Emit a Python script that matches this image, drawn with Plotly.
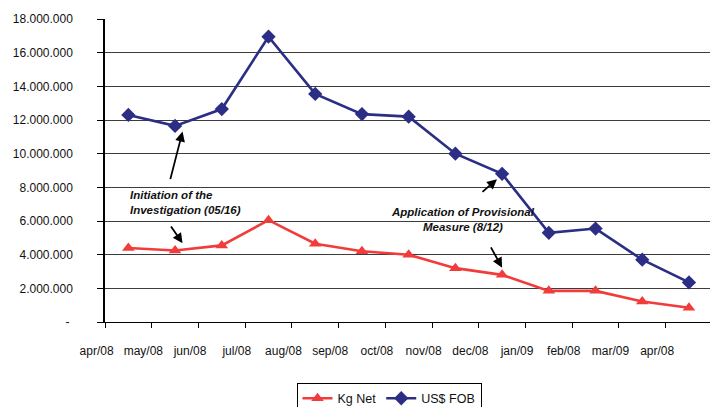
import plotly.graph_objects as go

# Monthly series
months = ["apr/08", "may/08", "jun/08", "jul/08", "aug/08", "sep/08", "oct/08",
          "nov/08", "dec/08", "jan/09", "feb/08", "mar/09", "apr/08"]
kg_net = [4.40e6, 4.25e6, 4.55e6, 6.05e6, 4.65e6, 4.20e6, 4.00e6,
          3.20e6, 2.80e6, 1.85e6, 1.85e6, 1.22e6, 0.85e6]
us_fob = [12.30e6, 11.65e6, 12.65e6, 16.95e6, 13.55e6, 12.35e6, 12.20e6,
          10.00e6, 8.80e6, 5.30e6, 5.55e6, 3.70e6, 2.35e6]

y_ticks = [i * 2_000_000 for i in range(10)]
y_labels = ["-\u00a0"] + [f"{v:,}".replace(",", ".") for v in y_ticks[1:]]

FONT = "Liberation Sans, Arial, sans-serif"
RED = "#F23B3B"
NAVY = "#2B2E84"

# geometry of the plotting area (pixels)
W, H = 710, 407
ML = 80            # paper margin; label axis starts here
AXIS_X = 105       # where the value axis sits
X_MAX = 12.95      # visible month slots
LABEL_SHIFT = 0.18 # month labels hang a little left of their tick marks
plot_w = W - ML
d0 = (AXIS_X - ML) / plot_w
unit = (W - AXIS_X) / X_MAX

# points sit in the middle of each month slot
xpos = [i + 0.5 for i in range(len(months))]

fig = go.Figure()
fig.add_trace(go.Scatter(
    x=xpos, y=kg_net, name="Kg Net", mode="lines+markers",
    line=dict(color=RED, width=2.6),
    marker=dict(symbol="triangle-up", size=11, color=RED),
))
fig.add_trace(go.Scatter(
    x=xpos, y=us_fob, name="US$ FOB", mode="lines+markers",
    line=dict(color=NAVY, width=2.6),
    marker=dict(symbol="diamond", size=11, color=NAVY),
))
# invisible carrier for the month-label axis
fig.add_trace(go.Scatter(x=[1], y=[0], xaxis="x2", yaxis="y2", mode="markers",
                         marker=dict(opacity=0), showlegend=False, hoverinfo="skip"))

fig.update_layout(
    width=W, height=H, autosize=False,
    margin=dict(l=ML, r=0, t=19, b=85, autoexpand=False),
    paper_bgcolor="white", plot_bgcolor="rgba(0,0,0,0)",
    font=dict(family=FONT, size=12, color="#111"),
    showlegend=True,
    legend=dict(
        orientation="h", x=(389 - ML) / plot_w, xanchor="center", y=-0.2, yanchor="top",
        bordercolor="#000", borderwidth=1, bgcolor="white",
        font=dict(size=12.5, color="#111"), itemwidth=30,
        tracegroupgap=0,
    ),
    xaxis=dict(
        domain=[d0, 1], range=[0, X_MAX], tickmode="array",
        tickvals=list(range(len(months))), showticklabels=False,
        ticks="outside", ticklen=5, tickcolor="#000",
        showgrid=False, zeroline=False, showline=True, linecolor="#000", linewidth=1,
        automargin=False,
    ),
    xaxis2=dict(
        domain=[0, 1], anchor="free", position=0,
        range=[-(AXIS_X - ML) / unit + LABEL_SHIFT, X_MAX + LABEL_SHIFT],
        tickmode="array", tickvals=list(range(len(months))), ticktext=months,
        tickangle=0, ticks="", showgrid=False, zeroline=False, showline=False,
        ticklabelstandoff=20, tickfont=dict(size=12, color="#111"), automargin=False,
    ),
    yaxis=dict(
        range=[0, 18e6], tickmode="array", tickvals=y_ticks, ticktext=y_labels,
        ticks="outside", ticklen=6, tickcolor="#000",
        showgrid=True, gridcolor="#3c3c3c", gridwidth=1,
        zeroline=False, showline=True, linecolor="#000", linewidth=1.5,
        ticklabelstandoff=22, tickfont=dict(size=12, color="#111"), automargin=False,
    ),
    yaxis2=dict(overlaying="y", anchor="x2", range=[0, 18e6], visible=False,
                showgrid=False, zeroline=False),
)

ann_font = dict(family=FONT, size=11.5, color="#111")
# event labels
fig.add_annotation(x=0.5, y=7.07e6, xref="x", yref="y", xanchor="left", yanchor="middle",
                   text="<b><i>Initiation of the<br>Investigation (05/16)</i></b>",
                   showarrow=False, align="left", font=ann_font)
fig.add_annotation(x=7.67, y=6.06e6, xref="x", yref="y", xanchor="center", yanchor="middle",
                   text="<b><i>Application of Provisional<br>Measure (8/12)</i></b>",
                   showarrow=False, align="center", font=ann_font)

# arrows pointing at the two event months
arrows = [
    (1.66, 11.31e6, -12.6, 49),
    (1.66, 4.68e6, -12.6, -18.3),
    (8.39, 8.48e6, -16, 14),
    (8.50, 3.23e6, -12, -21.7),
]
for hx, hy, ax, ay in arrows:
    fig.add_annotation(x=hx, y=hy, xref="x", yref="y", ax=ax, ay=ay,
                       axref="pixel", ayref="pixel", text="", showarrow=True,
                       arrowhead=2, arrowsize=1.1, arrowwidth=1.8, arrowcolor="#000")

fig.write_html("out.html")
